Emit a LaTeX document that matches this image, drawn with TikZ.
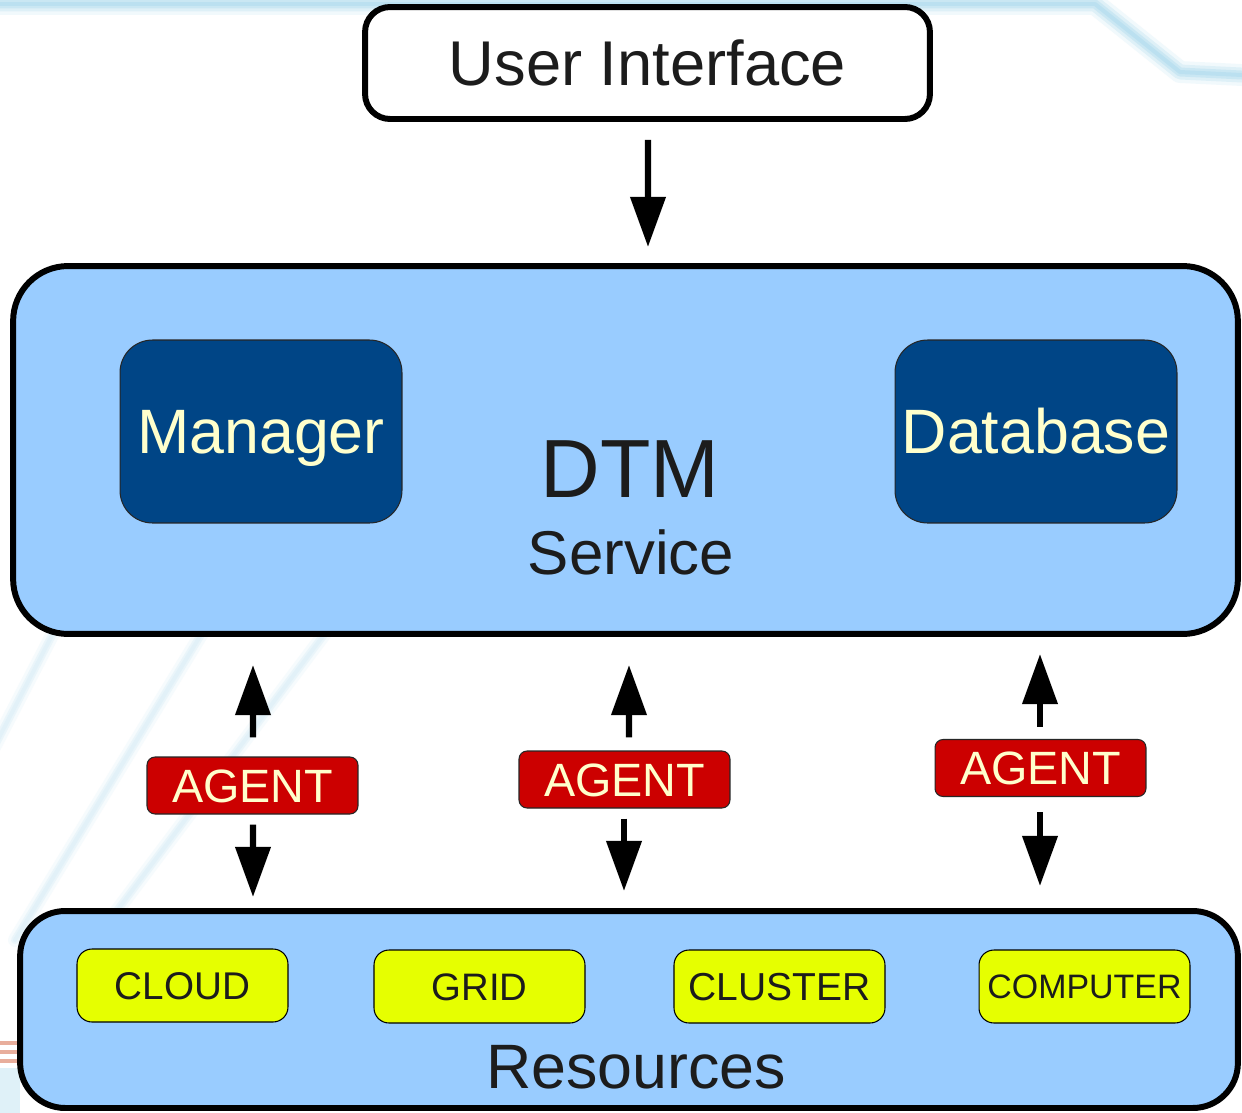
\documentclass[tikz,border=0pt]{standalone}
\usepackage{fontspec}
\setmainfont{Liberation Sans}
\usetikzlibrary{arrows.meta,calc}
\definecolor{svcblue}{HTML}{99CCFF}
\definecolor{deepblue}{HTML}{004586}
\definecolor{cream}{HTML}{FFFFCC}
\definecolor{agentred}{HTML}{CC0000}
\definecolor{limefill}{HTML}{E6FF00}
\definecolor{ink}{HTML}{1C1C1C}
\definecolor{haze}{HTML}{A6D7EC}
\definecolor{pale}{HTML}{D6ECF6}
\definecolor{rust}{HTML}{D9785A}

\newcommand{\fsz}[1]{\fontsize{#1}{#1}\selectfont}

\begin{document}
\begin{tikzpicture}[x=0.02cm,y=-0.02cm,
  bigframe/.style={draw=black, line width=3.4pt, inner sep=0pt},
  corebox/.style={draw=black!85, line width=0.6pt, fill=deepblue, text=cream,
    minimum width=5.64cm, minimum height=3.66cm, rounded corners=0.65cm,
    inner sep=0pt, font=\fsz{35.7pt}, text height=25.6pt, text depth=0pt},
  agentbox/.style={draw=black!85, line width=0.6pt, fill=agentred, text=cream,
    minimum width=4.22cm, minimum height=1.14cm, rounded corners=0.16cm,
    inner sep=0pt, font=\fsz{26.6pt}, text height=19pt, text depth=0pt},
  resbox/.style={draw=black, line width=0.6pt, fill=limefill, text=ink,
    minimum width=4.22cm, minimum height=1.46cm, rounded corners=0.3cm,
    inner sep=0pt, text depth=0pt},
  arr/.style={line width=3.6pt, -{Triangle[length=28.5pt,width=19.5pt]}},
  hazeline/.style={line cap=round, line join=round},
]
\useasboundingbox (0,0) rectangle (1242,1113);
\clip (0,0) rectangle (1242,1113);
\fill[white] (0,0) rectangle (1242,1113);

% soft background strokes
\foreach \w/\o in {22/0.15,15/0.25,9/0.35,4/0.4}{
  \draw[hazeline, haze, line width=\w*0.567pt, opacity=\o]
    (-20,4) -- (1095,4) -- (1180,72) -- (1262,76);
}
\foreach \w/\o in {14/0.2,8/0.35,4/0.4}{
  \draw[hazeline, pale, line width=\w*0.567pt, opacity=\o] (-10,755) -- (60,620);
  \draw[hazeline, pale, line width=\w*0.567pt, opacity=\o] (15,940) -- (210,620);
  \draw[hazeline, pale, line width=\w*0.567pt, opacity=\o] (95,940) -- (335,620);
}
\foreach \yy in {1043,1052,1061}{
  \draw[rust, line width=2.2pt, opacity=0.6] (-5,\yy) -- (20,\yy);
}
\fill[haze, opacity=0.35] (-5,1068) rectangle (20,1113);

% user interface
\node[bigframe, fill=white, minimum width=11.3cm, minimum height=2.24cm,
  rounded corners=0.5cm, font=\fsz{36pt}, text=ink, text height=25.8pt,
  text depth=0pt] (ui) at (647.5,63) {User Interface};

% service block
\node[bigframe, fill=svcblue, minimum width=24.5cm, minimum height=7.36cm,
  rounded corners=1.1cm] (dtm) at (625.5,450) {};
\node[corebox] (manager) at (261,431.5) {Manager};
\node[corebox] (database) at (1036,431.5) {Database};
\node[anchor=base, inner sep=0pt, text=ink, font=\fsz{47pt}] (dtmname) at (630,497) {DTM};
\node[anchor=base, inner sep=0pt, text=ink, font=\fsz{35.2pt}] (svcname) at (631,574) {Service};

% resources block
\node[bigframe, fill=svcblue, minimum width=24.36cm, minimum height=3.94cm,
  rounded corners=0.9cm] (res) at (629,1009.5) {};
\node[resbox, font=\fsz{22pt}, text height=15.8pt] (cloud) at (182.5,985.5) {CLOUD};
\node[resbox, font=\fsz{21.8pt}, text height=15.6pt] (grid) at (479.5,986.5) {GRID};
\node[resbox, font=\fsz{22.2pt}, text height=15.9pt] (cluster) at (779.5,986.5) {CLUSTER};
\node[resbox, font=\fsz{19.3pt}, text height=13.8pt] (computer) at (1084.5,986.5) {COMPUTER};
\node[anchor=base, inner sep=0pt, text=ink, font=\fsz{35.7pt}] (resname) at (636,1088) {Resources};

% agents
\node[agentbox] (a1) at (252.5,785.5) {AGENT};
\node[agentbox] (a2) at (624.5,779.5) {AGENT};
\node[agentbox] (a3) at (1040.5,768) {AGENT};

% arrow ends
\coordinate (uitail) at ($(ui.south)+(0.5,18)$);
\coordinate (uitip)  at (648,247);
\coordinate (a1up0) at ($(a1.north)+(0.5,-19)$);
\coordinate (a1up1) at (253,665);
\coordinate (a1dn0) at ($(a1.south)+(0.5,10)$);
\coordinate (a1dn1) at (253,897);
\coordinate (a2up0) at ($(a2.north)+(4.5,-13)$);
\coordinate (a2up1) at (629,665);
\coordinate (a2dn0) at ($(a2.south)+(-0.5,10)$);
\coordinate (a2dn1) at (624,891);
\coordinate (a3up0) at ($(a3.north)+(-0.5,-12)$);
\coordinate (a3up1) at (1040,654);
\coordinate (a3dn0) at ($(a3.south)+(-0.5,15)$);
\coordinate (a3dn1) at (1040,886);

\draw[arr] (uitail) -- (uitip);
\draw[arr] (a1up0) -- (a1up1);
\draw[arr] (a1dn0) -- (a1dn1);
\draw[arr] (a2up0) -- (a2up1);
\draw[arr] (a2dn0) -- (a2dn1);
\draw[arr] (a3up0) -- (a3up1);
\draw[arr] (a3dn0) -- (a3dn1);
\end{tikzpicture}
\end{document}
